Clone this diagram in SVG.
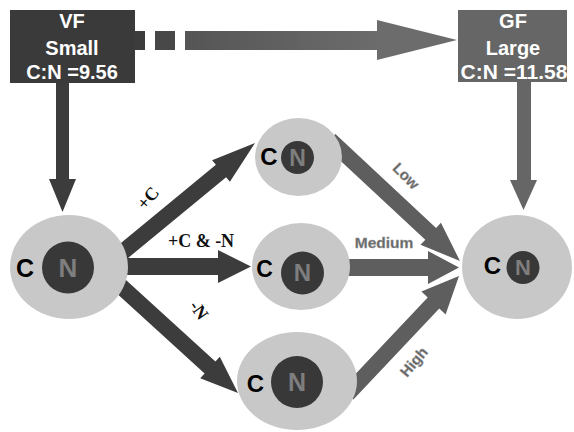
<svg xmlns="http://www.w3.org/2000/svg" width="574" height="432" viewBox="0 0 574 432">
<style>
.box{font-family:"Liberation Sans",Arial,sans-serif;font-weight:bold;font-size:20px;fill:#fff;text-anchor:middle}
.cell{fill:#c8c8c8}
.core{fill:#383838}
.c{font-family:"Liberation Sans",Arial,sans-serif;font-weight:bold;fill:#000;text-anchor:middle}
.n{font-family:"Liberation Sans",Arial,sans-serif;font-weight:bold;fill:#7e7e7e;text-anchor:middle}
.dark{fill:#3c3c3c}
.mid{fill:#5e5e5e}
.lbl{font-family:"Liberation Serif","Times New Roman",serif;font-weight:bold;font-size:18px;fill:#111;text-anchor:middle}
.lbl2{font-family:"Liberation Sans",Arial,sans-serif;font-weight:bold;font-size:15px;fill:#666;stroke:#999;stroke-width:0.4;text-anchor:middle}
</style>
<defs>
<linearGradient id="g1" x1="0" y1="0" x2="1" y2="0">
<stop offset="0" stop-color="#555"/>
<stop offset="1" stop-color="#6c6c6c"/>
</linearGradient>
</defs>
<g id="connectors">
<rect x="135" y="31" width="10" height="19" fill="#3c3c3c"/>
<rect x="155" y="31" width="20" height="19" fill="#484848"/>
<rect x="185" y="31" width="193" height="19" fill="url(#g1)"/>
<polygon points="377,20 457,40 377,60" fill="#6c6c6c"/>
<polygon class="dark" points="56,83 69,83 69,179 76,179 62.5,212 49,179 56,179"/>
<polygon fill="#666" points="517,82 531,82 531,180 537,180 523.5,210 510,180 517,180"/>
<polygon class="dark" points="118.1,266.2 226.1,177.2 229.9,181.8 255,143 212.1,160.2 215.9,164.8 107.9,253.8"/>
<polygon class="dark" points="120,258 218,258 218,250 251,266.5 218,283 218,275 120,275"/>
<polygon class="dark" points="108.6,285.9 204.6,373.4 200.2,378.2 238,393 219.8,356.8 215.4,361.6 119.4,274.1"/>
<polygon class="mid" points="324.6,145.9 425.3,239.7 420.5,244.8 460,261 440.9,222.8 436.1,227.9 335.4,134.1"/>
<polygon class="mid" points="340,259 428,259 428,251 459,267.5 428,284 428,276 340,276"/>
<polygon class="mid" points="353.4,399.4 439.3,308.5 445.6,314.5 459,276 421.4,291.5 427.7,297.5 341.8,388.4"/>
<text class="lbl" transform="translate(148,198) rotate(-50)" y="6">+C</text>
<text class="lbl" x="201" y="247">+C &amp; -N</text>
<text class="lbl" transform="translate(199,310) rotate(55)" y="6">-N</text>
<text class="lbl2" transform="translate(406,176) rotate(45)" y="5">Low</text>
<text class="lbl2" x="384" y="248" style="font-size:15.5px">Medium</text>
<text class="lbl2" transform="translate(414,362) rotate(-50)" y="5">High</text>
</g>
<g id="vf">
<rect x="10" y="10" width="125" height="73" fill="#3a3a3a"/>
<text class="box" x="72" y="28">VF</text>
<text class="box" x="72" y="55">Small</text>
<text class="box" x="72" y="79">C:N =9.56</text>
</g>
<g id="gf">
<rect x="458" y="10" width="109" height="72" fill="#666"/>
<text class="box" x="513" y="28">GF</text>
<text class="box" x="513" y="55">Large</text>
<text class="box" x="514" y="79" style="font-size:21px">C:N =11.58</text>
</g>
<g id="node-left">
<ellipse class="cell" cx="69" cy="267" rx="59" ry="52"/>
<circle class="core" cx="68" cy="267.5" r="26"/>
<text class="c" x="25" y="277" font-size="25">C</text>
<text class="n" x="68" y="276.5" font-size="26">N</text>
</g>
<g id="node-top">
<ellipse class="cell" cx="298.5" cy="157" rx="43.5" ry="39"/>
<circle class="core" cx="297.5" cy="157.5" r="16.5"/>
<text class="c" x="269" y="165" font-size="24">C</text>
<text class="n" x="297.5" y="166" font-size="23">N</text>
</g>
<g id="node-middle">
<ellipse class="cell" cx="301" cy="266.5" rx="49" ry="43.5"/>
<circle class="core" cx="302.5" cy="273" r="21.5"/>
<text class="c" x="264.5" y="277" font-size="23">C</text>
<text class="n" x="302.5" y="281" font-size="24">N</text>
</g>
<g id="node-bottom">
<ellipse class="cell" cx="297" cy="381" rx="60" ry="49"/>
<circle class="core" cx="297" cy="382" r="26"/>
<text class="c" x="255.5" y="392" font-size="24">C</text>
<text class="n" x="297" y="391" font-size="25">N</text>
</g>
<g id="node-right">
<ellipse class="cell" cx="517" cy="267" rx="55" ry="52"/>
<circle class="core" cx="523" cy="267.5" r="16.5"/>
<text class="c" x="492.5" y="273.5" font-size="24">C</text>
<text class="n" x="523" y="275" font-size="22">N</text>
</g>
</svg>
